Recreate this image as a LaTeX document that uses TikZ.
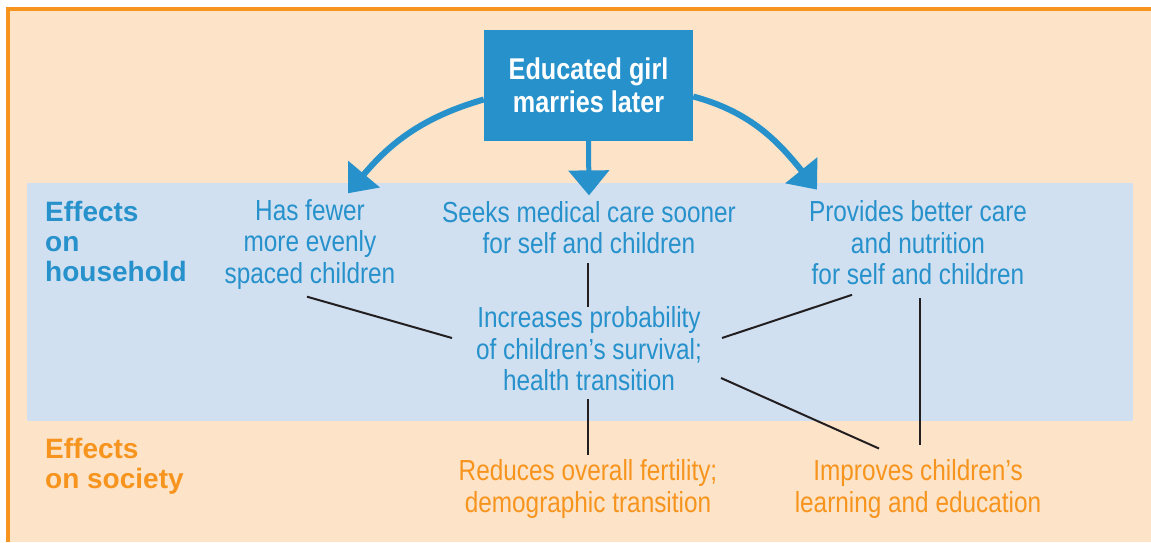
\documentclass[tikz,border=0pt]{standalone}
\usepackage{fontspec}
\setmainfont{Liberation Sans}[FakeStretch=0.84]
\newfontfamily\widefont{Liberation Sans}
\usetikzlibrary{arrows.meta}

\definecolor{peach}{RGB}{253,227,200}
\definecolor{band}{RGB}{208,224,241}
\definecolor{ublue}{RGB}{38,145,203}
\definecolor{uorange}{RGB}{247,148,29}
\definecolor{ink}{RGB}{35,31,32}

\tikzset{
  effect/.style={align=center, text=ublue, inner sep=2pt, font=\fontsize{29}{31.5}\selectfont},
  social/.style={effect, text=uorange},
  side/.style={align=left, anchor=west, inner sep=0pt, font=\widefont\bfseries\fontsize{28}{30}\selectfont},
  link/.style={draw=ink, line width=2pt},
  bigarrow/.style={draw=ublue, line width=6pt, -{Triangle[width=40pt,length=25pt]}}
}

\begin{document}
\begin{tikzpicture}[x=1pt,y=1pt]
\def\xl{27};
\def\xr{1133};
\def\yb{121};
\def\yt{359};

\useasboundingbox (0,0) rectangle (1151,542);
\fill[peach] (7.5,0) rectangle (1151,533);
\draw[uorange, line width=4pt] (7.5,0) -- (7.5,533) -- (1151,533);
\fill[band] (\xl,\yb) rectangle (\xr,\yt);

\node[fill=ublue, text=white, minimum width=209pt, minimum height=111pt, align=center,
      font=\bfseries\fontsize{30}{33}\selectfont] (girl) at (588.5,456.5) {Educated girl\\marries later};

\node[side, text=ublue] (house) at (45,301) {Effects\\on\\household};
\node[side, text=uorange] (society) at (45,75.5) {Effects\\on society};

\node[effect] (fewer) at (310,297.5) {Has fewer\\more evenly\\spaced children};
\node[effect] (seeks) at (589,314.5) {Seeks medical care sooner\\for self and children};
\node[effect] (care) at (918,299) {Provides better care\\and nutrition\\for self and children};
\node[effect] (survival) at (589,193) {Increases probability\\of children’s survival;\\health transition};
\node[social] (fertility) at (588,53) {Reduces overall fertility;\\demographic transition};
\node[social] (learning) at (918,53) {Improves children’s\\learning and education};

\draw[bigarrow] ([yshift=-14pt]girl.west) to[out=196, in=50] ([xshift=38pt,yshift=4pt]fewer.north);
\draw[bigarrow, line width=5pt] (girl.south) -- ([yshift=3.5pt]seeks.north);
\draw[bigarrow] ([yshift=-11pt]girl.east) to[out=-15, in=129] ([xshift=-101pt,yshift=9pt]care.north);

\draw[link] ([xshift=-3pt,yshift=-5pt]fewer.south) -- ([xshift=-22pt,yshift=11pt]survival.west);
\draw[link, shorten <=7pt, shorten >=-2pt] (seeks.south -| fertility) -- (survival.north -| fertility);
\draw[link, shorten <=6pt, shorten >=3pt] (survival.south -| fertility) -- (fertility.north);
\draw[link] ([xshift=18pt,yshift=11pt]survival.east) -- ([xshift=-66pt,yshift=-7.5pt]care.south);
\draw[link] ([xshift=17pt,yshift=-29pt]survival.east) -- ([xshift=-39pt,yshift=9pt]learning.north);
\draw[link, shorten <=11pt, shorten >=13pt] ([xshift=2pt]care.south) -- ([xshift=2pt]learning.north);

\end{tikzpicture}
\end{document}
